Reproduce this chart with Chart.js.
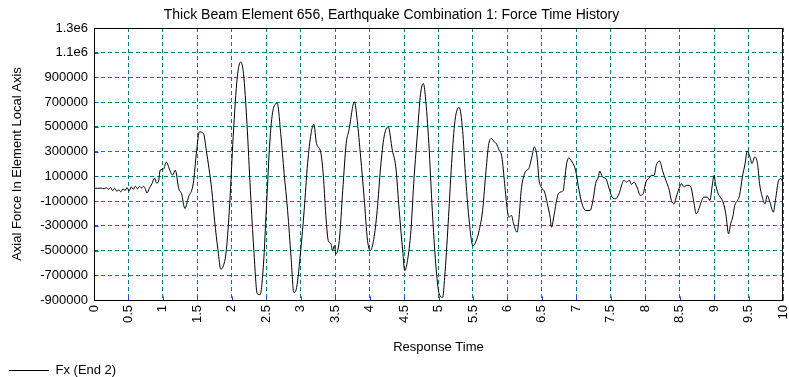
<!DOCTYPE html>
<html lang="en">
<head>
  <meta charset="UTF-8" />
  <title>Force Time History</title>
  <script src="https://cdn.jsdelivr.net/npm/chart.js"></script>
  <style>
    body { margin: 0; background: #fff; overflow: hidden; }
    canvas { display: block; }
  </style>
</head>
<body>
  <canvas id="forceChart" width="789" height="377"></canvas>

  <script>
    // response time (s)
    const times = [
      0.00, 0.05, 0.10, 0.15, 0.18, 0.21, 0.24, 0.27, 0.30, 0.33, 0.36, 0.39, 0.42, 0.45, 0.48,
      0.51, 0.54, 0.57, 0.60, 0.63, 0.66, 0.69, 0.72, 0.74, 0.77, 0.80, 0.84, 0.88, 0.91, 0.94,
      0.96, 1.01, 1.05, 1.10, 1.14, 1.18, 1.23, 1.27, 1.32, 1.37, 1.44, 1.49, 1.53, 1.59, 1.63,
      1.71, 1.75, 1.80, 1.84, 1.88, 1.92, 1.97, 2.02, 2.08, 2.13, 2.17, 2.22, 2.27, 2.32, 2.37,
      2.41, 2.46, 2.50, 2.56, 2.61, 2.66, 2.71, 2.76, 2.81, 2.86, 2.90, 2.94, 3.00, 3.05, 3.10,
      3.15, 3.19, 3.23, 3.29, 3.33, 3.36, 3.40, 3.44, 3.46, 3.49, 3.51, 3.56, 3.61, 3.66, 3.70,
      3.78, 3.82, 3.87, 3.92, 3.97, 4.01, 4.06, 4.11, 4.16, 4.21, 4.27, 4.33, 4.38, 4.43, 4.48,
      4.51, 4.55, 4.60, 4.64, 4.69, 4.74, 4.78, 4.81, 4.86, 4.91, 4.96, 5.01, 5.06, 5.09, 5.14,
      5.19, 5.24, 5.30, 5.35, 5.39, 5.44, 5.50, 5.54, 5.59, 5.64, 5.69, 5.73, 5.77, 5.81, 5.84,
      5.88, 5.92, 5.96, 6.00, 6.02, 6.06, 6.09, 6.14, 6.17, 6.20, 6.24, 6.28, 6.31, 6.36, 6.39,
      6.43, 6.46, 6.49, 6.54, 6.58, 6.62, 6.64, 6.68, 6.73, 6.77, 6.81, 6.83, 6.86, 6.89, 6.94,
      6.99, 7.04, 7.09, 7.14, 7.20, 7.25, 7.28, 7.32, 7.34, 7.38, 7.43, 7.47, 7.52, 7.57, 7.62,
      7.65, 7.69, 7.73, 7.77, 7.80, 7.84, 7.88, 7.93, 7.97, 8.01, 8.06, 8.09, 8.13, 8.16, 8.21,
      8.25, 8.30, 8.35, 8.38, 8.42, 8.45, 8.49, 8.53, 8.56, 8.60, 8.64, 8.67, 8.71, 8.74, 8.78,
      8.82, 8.85, 8.90, 8.94, 8.97, 9.00, 9.02, 9.06, 9.09, 9.13, 9.17, 9.21, 9.24, 9.27, 9.30,
      9.34, 9.37, 9.41, 9.45, 9.48, 9.52, 9.55, 9.59, 9.63, 9.66, 9.70, 9.74, 9.77, 9.81, 9.86,
      9.89, 9.93, 9.97, 10.00
    ];

    // Fx (End 2), axial force
    const fxEnd2 = [
      5000, 3000, 5000, 0, 8000, -5000, 10000, -15000, 5000, -20000, -10000, -25000, 0, -15000, 10000,
      -20000, 15000, -5000, 20000, 0, 18000, 5000, 20000, 5000, -35000, 0, 40000, 85000, 45000, 70000,
      150000, 160000, 215000, 150000, 110000, 150000, 0, -40000, -160000, -70000, 40000, 310000, 460000, 445000, 310000,
      -15000, -255000, -500000, -650000, -620000, -500000, -120000, 420000, 905000, 1025000, 930000, 527000, -15000, -500000, -850000,
      -857000, -610000, -176000, 446000, 662000, 690000, 446000, 122000, -176000, -554000, -838000, -800000, -500000, -176000, 203000,
      446000, 522000, 365000, 297000, 95000, -176000, -419000, -446000, -500000, -460000, -527000, -419000, -14000, 365000, 473000,
      703000, 554000, 257000, -68000, -419000, -500000, -410000, -176000, 176000, 419000, 500000, 311000, 176000, -176000, -500000,
      -662000, -581000, -338000, 41000, 419000, 770000, 851000, 743000, 365000, -176000, -608000, -851000, -878000, -716000, -284000,
      203000, 554000, 657000, 473000, 122000, -230000, -460000, -432000, -338000, -176000, 149000, 365000, 405000, 378000, 365000,
      311000, 257000, 41000, -176000, -230000, -216000, -284000, -351000, -230000, -14000, 108000, 149000, 162000, 270000, 338000,
      257000, 68000, 14000, -27000, -122000, -230000, -311000, -203000, -54000, -27000, -14000, 68000, 203000, 249000, 216000,
      149000, -14000, -135000, -176000, -176000, -68000, 41000, 95000, 143000, 95000, 81000, 14000, -68000, -81000, -41000,
      14000, 68000, 54000, 68000, 35000, 54000, 14000, -54000, -41000, 54000, 90000, 108000, 108000, 189000, 224000,
      149000, 68000, -14000, -95000, -122000, -68000, 0, 41000, 14000, 27000, 27000, 0, -122000, -203000, -162000,
      -95000, -68000, -68000, -95000, 14000, 108000, 41000, -41000, -68000, -108000, -203000, -365000, -284000, -230000, -135000,
      -95000, -54000, 95000, 203000, 305000, 257000, 203000, 257000, 203000, 41000, -68000, -122000, -54000, -108000, -189000,
      -95000, 54000, 81000, 50000
    ];

    // tick values on the axes
    const xTicks = [0, 0.5, 1, 1.5, 2, 2.5, 3, 3.5, 4, 4.5, 5, 5.5, 6, 6.5, 7, 7.5, 8, 8.5, 9, 9.5, 10];
    const yTicks = [-900000, -700000, -500000, -300000, -100000, 100000, 300000, 500000, 700000, 900000, 1100000, 1300000];

    const font = { family: "'Liberation Sans', Arial, sans-serif", size: 13 };
    const teal = '#008080';

    // y labels: 1.1e6 style above a million
    function formatForce(v) {
      if (Math.abs(v) >= 1000000) return (v / 1000000).toFixed(1) + 'e6';
      return String(v);
    }

    // black box round the plot area, plus the short blue ticks inside it
    const frame = {
      id: 'frame',
      afterDatasetsDraw(chart) {
        const a = chart.chartArea, ctx = chart.ctx;
        const L = Math.round(a.left) + 0.5, T = Math.round(a.top) + 0.5;
        const R = Math.round(a.right) - 0.5, B = Math.round(a.bottom) + 0.5;
        ctx.save();
        ctx.lineWidth = 1;
        ctx.strokeStyle = '#2040ff';
        ctx.beginPath();
        chart.scales.y.ticks.forEach(t => {
          const py = Math.round(chart.scales.y.getPixelForValue(t.value)) + 0.5;
          ctx.moveTo(L, py); ctx.lineTo(L + 4, py);
        });
        chart.scales.x.ticks.forEach(t => {
          const px = Math.round(chart.scales.x.getPixelForValue(t.value)) + 0.5;
          ctx.moveTo(px, B); ctx.lineTo(px, B - 4);
        });
        ctx.stroke();
        ctx.strokeStyle = '#000';
        ctx.strokeRect(L, T, R - L, B - T);
        ctx.restore();
      }
    };

    const points = times.map((t, i) => ({ x: t, y: fxEnd2[i] }));

    new Chart(document.getElementById('forceChart'), {
      type: 'line',
      data: {
        datasets: [{
          label: 'Fx (End 2)',
          data: points,
          borderColor: '#000',
          backgroundColor: '#000',
          borderWidth: 1,
          pointRadius: 0,
          cubicInterpolationMode: 'monotone',
          pointStyle: 'line'
        }]
      },
      options: {
        responsive: false,
        animation: false,
        devicePixelRatio: 1,
        layout: { padding: { left: 0, right: 6, top: 0, bottom: -10 } },
        plugins: {
          title: {
            display: true,
            text: 'Thick Beam Element 656, Earthquake Combination 1: Force Time History',
            color: '#000',
            font: { ...font, size: 14, weight: 'normal' },
            padding: { top: 7, bottom: 4.2 }
          },
          legend: {
            position: 'bottom',
            align: 'start',
            labels: {
              usePointStyle: true,
              pointStyle: 'line',
              pointStyleWidth: 40,
              padding: 9,
              color: '#000',
              font: font
            }
          },
          tooltip: { enabled: false }
        },
        scales: {
          x: {
            type: 'linear',
            min: 0,
            max: 10,
            afterBuildTicks: s => { s.ticks = xTicks.map(v => ({ value: v })); },
            afterFit: s => { s.height = 55; s.paddingLeft = 0; s.paddingRight = 0; },
            ticks: {
              color: '#000', font: font, padding: 5,
              minRotation: 90, maxRotation: 90, autoSkip: false,
              callback: v => String(v)
            },
            grid: { color: teal, drawTicks: false },
            border: { display: false, dash: [4, 3] },
            title: {
              display: true, text: 'Response Time', color: '#000', font: font,
              padding: { top: 0, bottom: 0 }
            }
          },
          y: {
            min: -900000,
            max: 1300000,
            afterBuildTicks: s => { s.ticks = yTicks.map(v => ({ value: v })); },
            afterFit: s => { s.width = 94; s.paddingTop = 0; s.paddingBottom = 0; },
            ticks: { color: '#000', font: font, padding: 6, callback: formatForce },
            grid: { color: teal, drawTicks: false },
            border: { display: false, dash: [4, 3] },
            title: {
              display: true, text: 'Axial Force In Element Local Axis', color: '#000', font: font,
              padding: { top: 10, bottom: 0 }
            }
          }
        }
      },
      plugins: [frame]
    });
  </script>
</body>
</html>
